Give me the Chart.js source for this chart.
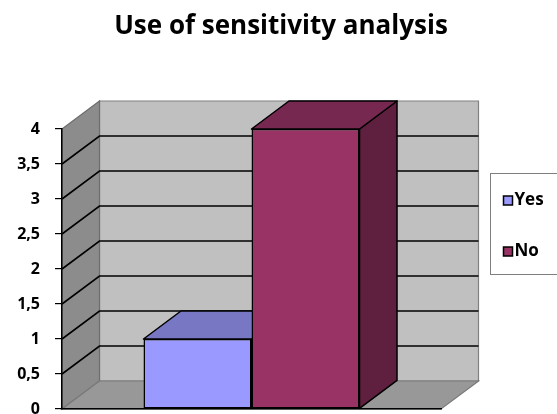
<!DOCTYPE html>
<html>
<head>
<meta charset="utf-8">
<script src="https://cdn.jsdelivr.net/npm/chart.js@4/dist/chart.umd.min.js"></script>
<style>
  html, body { margin: 0; padding: 0; background: #ffffff; }
  #wrap { width: 557px; height: 414px; }
</style>
</head>
<body>
<div id="wrap"><canvas id="c" width="557" height="414"></canvas></div>
<script>
// Data
const categories = [''];
const seriesNames = ['Yes', 'No'];
const yesValues = [1];
const noValues = [4];
const yTickLabels = ['0', '0,5', '1', '1,5', '2', '2,5', '3', '3,5', '4'];

// Styling
const FONT = "'Open Sans', 'DejaVu Sans', sans-serif";
const DEPTH_X = 37.5;   // horizontal depth of the 3D box
const DEPTH_Y = -28;    // vertical depth of the 3D box
const shades = [
  { front: '#9999FF', top: '#7777C4', side: '#5F5FA0' },
  { front: '#993366', top: '#772851', side: '#5F1F3F' }
];

function poly(ctx, pts, fill, stroke, lw) {
  ctx.beginPath();
  ctx.moveTo(pts[0][0], pts[0][1]);
  for (let i = 1; i < pts.length; i++) ctx.lineTo(pts[i][0], pts[i][1]);
  ctx.closePath();
  if (fill) { ctx.fillStyle = fill; ctx.fill(); }
  if (stroke) { ctx.strokeStyle = stroke; ctx.lineWidth = lw || 1; ctx.stroke(); }
}

// Back wall, side wall, floor and gridlines of the 3D box
const box3d = {
  id: 'box3d',
  beforeDraw(chart) {
    const { ctx, chartArea: a, scales: { y } } = chart;
    const L = a.left, R = a.right, T = a.top, B = a.bottom;
    ctx.save();
    // back wall
    poly(ctx, [[L + DEPTH_X, T + DEPTH_Y], [R + DEPTH_X, T + DEPTH_Y], [R + DEPTH_X, B + DEPTH_Y], [L + DEPTH_X, B + DEPTH_Y]],
      '#C0C0C0', '#808080', 1.2);
    // left wall
    poly(ctx, [[L, T], [L + DEPTH_X, T + DEPTH_Y], [L + DEPTH_X, B + DEPTH_Y], [L, B]],
      '#8C8C8C', '#6E6E6E', 1.2);
    // floor
    poly(ctx, [[L, B], [R, B], [R + DEPTH_X, B + DEPTH_Y], [L + DEPTH_X, B + DEPTH_Y]],
      '#989898', '#7A7A7A', 1.2);
    // gridlines
    ctx.strokeStyle = '#000000';
    ctx.lineWidth = 1.6;
    y.ticks.forEach(t => {
      if (t.value <= y.min || t.value >= y.max) return;
      const py = y.getPixelForValue(t.value);
      ctx.beginPath();
      ctx.moveTo(L, py);
      ctx.lineTo(L + DEPTH_X, py + DEPTH_Y);
      ctx.lineTo(R + DEPTH_X, py + DEPTH_Y);
      ctx.stroke();
    });
    ctx.restore();
  },
  // top and side faces of each bar; the front faces are drawn by Chart.js
  beforeDatasetsDraw(chart) {
    const { ctx } = chart;
    ctx.save();
    ctx.lineJoin = 'round';
    chart.data.datasets.forEach((ds, di) => {
      const meta = chart.getDatasetMeta(di);
      meta.data.forEach(bar => {
        const p = bar.getProps(['x', 'y', 'base', 'width'], true);
        const l = p.x - p.width / 2, r = p.x + p.width / 2;
        const top = Math.min(p.y, p.base), bot = Math.max(p.y, p.base);
        poly(ctx, [[r, top], [r + DEPTH_X, top + DEPTH_Y], [r + DEPTH_X, bot + DEPTH_Y], [r, bot]],
          shades[di].side, '#000000', 1.5);
        poly(ctx, [[l, top], [r, top], [r + DEPTH_X, top + DEPTH_Y], [l + DEPTH_X, top + DEPTH_Y]],
          shades[di].top, '#000000', 1.5);
      });
    });
    ctx.restore();
  },
  // legend box at the right
  afterDraw(chart) {
    const { ctx } = chart;
    ctx.save();
    ctx.fillStyle = '#ffffff';
    ctx.fillRect(490.5, 173.5, 80, 101);
    ctx.strokeStyle = '#7F7F7F';
    ctx.lineWidth = 1;
    ctx.strokeRect(490.5, 173.5, 80, 101);
    ctx.font = 'bold 17px ' + FONT;
    ctx.textBaseline = 'middle';
    ctx.textAlign = 'left';
    chart.data.datasets.forEach((ds, i) => {
      const yy = 196 + i * 51;
      ctx.fillStyle = ds.backgroundColor;
      ctx.fillRect(503.5, yy, 9, 9);
      ctx.strokeStyle = '#000000';
      ctx.lineWidth = 1.5;
      ctx.strokeRect(503.5, yy, 9, 9);
      ctx.fillStyle = '#000000';
      ctx.fillText(ds.label, 514.5, yy + 4.5);
    });
    ctx.restore();
  }
};

new Chart(document.getElementById('c'), {
  type: 'bar',
  data: {
    labels: categories,
    datasets: [
      { label: seriesNames[0], data: yesValues, backgroundColor: shades[0].front },
      { label: seriesNames[1], data: noValues, backgroundColor: shades[1].front }
    ]
  },
  options: {
    responsive: false,
    animation: false,
    devicePixelRatio: 1,
    layout: { padding: { left: 5, right: 0, top: 0, bottom: 0 } },
    datasets: {
      bar: {
        categoryPercentage: 0.57,
        barPercentage: 1.0,
        borderColor: '#000000',
        borderWidth: 1.5,
        borderSkipped: false
      }
    },
    plugins: {
      legend: { display: false },
      tooltip: { enabled: false },
      title: {
        display: true,
        text: 'Use of sensitivity analysis',
        color: '#000000',
        font: { family: FONT, size: 26, weight: 'bold', lineHeight: 1.2 },
        padding: { top: 11, bottom: 86.8 }
      }
    },
    scales: {
      x: {
        ticks: { display: false },
        grid: { display: false },
        border: { display: true, color: '#000000', width: 1.5 },
        afterFit(s) { s.height = 5; }
      },
      y: {
        min: 0,
        max: 4,
        ticks: {
          stepSize: 0.5,
          padding: 15,
          color: '#000000',
          font: { family: FONT, size: 16, weight: 'bold' },
          callback: (v, i) => yTickLabels[i]
        },
        grid: { drawOnChartArea: false, drawTicks: true, tickLength: 7, color: '#000000', lineWidth: 1.2 },
        border: { display: true, color: '#000000', width: 1.5 },
        afterFit(s) { s.width = 57; s.paddingTop = 0; s.paddingBottom = 0; }
      },
      yRight: {
        position: 'right',
        display: true,
        ticks: { display: false },
        grid: { display: false },
        border: { display: false },
        afterFit(s) { s.width = 116; s.paddingTop = 0; s.paddingBottom = 0; }
      }
    }
  },
  plugins: [box3d]
});
</script>
</body>
</html>
